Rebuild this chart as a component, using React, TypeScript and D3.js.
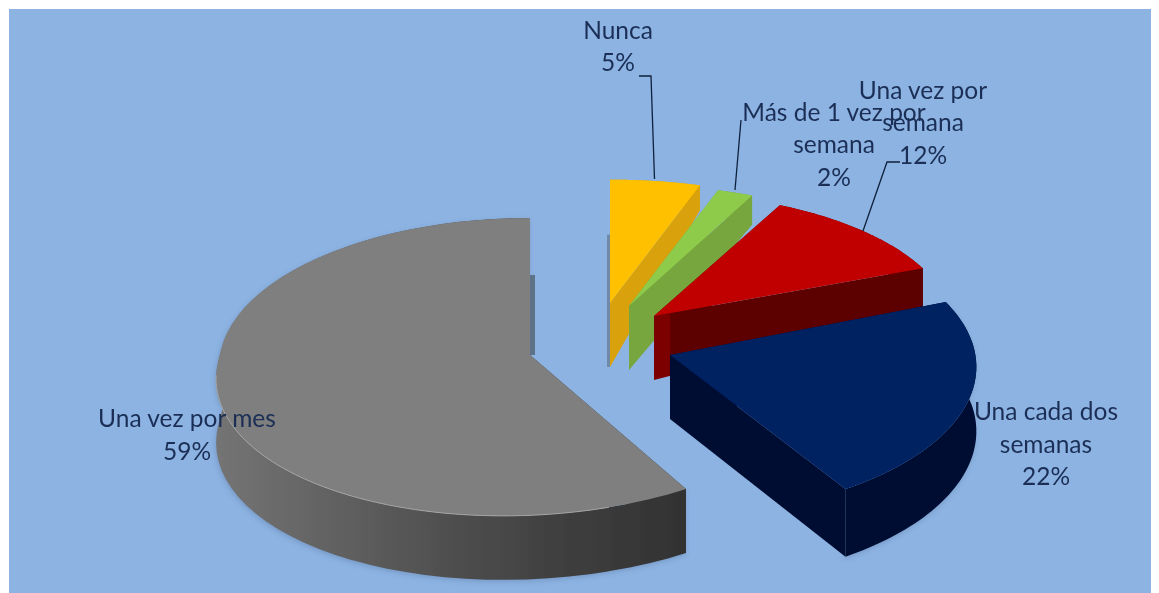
import React from "react";
import * as d3 from "d3";

const categories = ["Nunca", "Más de 1 vez por semana", "Una vez por semana", "Una cada dos semanas", "Una vez por mes"];
const values = [5, 2, 12, 22, 59];
const labelLines = [
  ["Nunca", "5%"],
  ["Más de 1 vez por", "semana", "2%"],
  ["Una vez por", "semana", "12%"],
  ["Una cada dos", "semanas", "22%"],
  ["Una vez por mes", "59%"],
];
const topColors = ["#ffc000", "#8fcb4c", "#c00000", "#002060", "#7f7f7f"];
const sideColors = ["#d9a208", "#76a63c", "#5c0000", "#000c30", "url(#graySide)"];
const faceColors = ["#d9a208", "#76a63c", "url(#redSide)", "#000c30", "#333333"];

const W = 1159, H = 593;
const RX = 310, RY = 148, K = 0.08, DEPTH = 64;

// explosion / perspective layout per slice
const layout = [
  { ax: 610, ay: 303, sx: 1.01, sy: 0.9, skew: 0, taper: 0.64, da0: 0, front: 0 },
  { ax: 629, ay: 306, sx: 1.0, sy: 0.885, skew: 0, taper: 0.6, da0: 0, front: 0 },
  { ax: 654, ay: 316, sx: 0.96, sy: 0.9, skew: 0, taper: 0.9, da0: 0.03, front: 0 },
  { ax: 670, ay: 355, sx: 0.985, sy: 1.0, skew: 0, taper: 0, da0: 0, front: 0.07 },
  { ax: 530, ay: 355, sx: 1.0, sy: 1.0, skew: -0.165, taper: 0, da0: 0, front: 0 },
];
const labelPos = [
  { x: 618, y: 38.5 }, { x: 834, y: 120.5 }, { x: 923, y: 98.5 }, { x: 1046, y: 420 }, { x: 187, y: 427 },
];
const LINE_H = 32.7;
const leaders: [number, number][][] = [
  [[639, 76], [651, 76], [654.5, 179]],
  [[741, 120], [735, 190]],
  [[900, 162], [887, 162], [863, 231]],
];

const pieGen = d3.pie<number>().sort(null).startAngle(0).endAngle(2 * Math.PI);
const arcs = pieGen(values);

type L = (typeof layout)[number];
const persp = (a: number) => 1 / (1 + K * Math.cos(a));
const project = (l: L, a: number, r = 1, drop = false): [number, number] => {
  const f = r === 0 ? 1 : persp(a);
  const dx = RX * l.sx * r * Math.sin(a) * f;
  const dy = -RY * l.sy * r * Math.cos(a) * f;
  const sk = dy > 0 ? l.skew * dy : 0;
  const c = Math.cos(a);
  const depth = drop ? DEPTH * (1 - l.taper * r * Math.max(c, 0) + l.front * r * Math.max(-c, 0)) : 0;
  return [l.ax + dx + sk, l.ay + dy + depth];
};
const line = d3.line<[number, number]>();
const samples = (a0: number, a1: number) => d3.range(0, 61).map((i) => a0 + ((a1 - a0) * i) / 60);

const topPath = (l: L, a0: number, a1: number) =>
  line([project(l, a0, 0), ...samples(a0, a1).map((a) => project(l, a)), project(l, a0, 0)])!;
const rimPath = (l: L, a0: number, a1: number) => line(samples(a0, a1).map((a) => project(l, a)))!;
const wallPath = (l: L, a0: number, a1: number) =>
  line([
    ...samples(a0, a1).map((a) => project(l, a)),
    ...samples(a0, a1).reverse().map((a) => project(l, a, 1, true)),
  ])! + "Z";
const facePath = (l: L, a: number) =>
  line([project(l, a, 0), project(l, a), project(l, a, 1, true), project(l, a, 0, true)])! + "Z";
// thin shaded sliver seen beside a vertical cut edge
const sliverPath = (l: L, side: number, fromTop: number, toApex: number) => {
  const t = project(l, 0);
  const b = project(l, 0, 0);
  return line([
    [b[0], t[1] + fromTop],
    [b[0] + side, t[1] + fromTop],
    [b[0] + side, b[1] + toApex],
    [b[0], b[1] + toApex],
  ])! + "Z";
};

export default function App() {
  const startOf = (i: number, a: number) => a + layout[i].da0;
  return (
    <svg
      width={W}
      height={H}
      viewBox={`0 0 ${W} ${H}`}
      style={{ position: "absolute", left: 0, top: 0, display: "block", background: "#fff" }}
    >
      <defs>
        <linearGradient id="graySide" x1="0" x2="1" y1="0" y2="0">
          <stop offset="0" stopColor="#747474" />
          <stop offset="0.15" stopColor="#696969" />
          <stop offset="0.45" stopColor="#525252" />
          <stop offset="0.75" stopColor="#3e3e3e" />
          <stop offset="1" stopColor="#323232" />
        </linearGradient>
        <linearGradient id="redSide" x1="0" x2="1" y1="0" y2="0">
          <stop offset="0" stopColor="#7d0000" />
          <stop offset="0.055" stopColor="#7d0000" />
          <stop offset="0.065" stopColor="#5c0000" />
          <stop offset="1" stopColor="#5c0000" />
        </linearGradient>
        <filter id="soft" x="-5%" y="-5%" width="110%" height="110%">
          <feGaussianBlur stdDeviation="0.6" />
        </filter>
        <filter id="shadow" x="-5%" y="-5%" width="110%" height="110%">
          <feGaussianBlur stdDeviation="2.5" />
        </filter>
      </defs>
      <rect x={9} y={9} width={1151 - 9} height={H - 9} fill="#8db3e2" />
      <g filter="url(#soft)">
        <path d={sliverPath(layout[0], -3, 55, 64)} fill="#6f89a8" />
        {arcs.map((d, i) => {
          const l = layout[i];
          const a0 = startOf(i, d.startAngle);
          const a1 = d.endAngle;
          return (
            <g key={categories[i]}>
              {i >= 3 && (
                <path d={wallPath(l, a0, a1)} fill="#5f7da6" opacity={0.45} filter="url(#shadow)" transform="translate(-1,2)" />
              )}
              <path d={facePath(l, a0)} fill={faceColors[i]} />
              <path d={facePath(l, a1)} fill={faceColors[i]} />
              <path d={wallPath(l, a0, a1)} fill={sideColors[i]} />
              <path d={topPath(l, a0, a1)} fill={topColors[i]} />
            </g>
          );
        })}
        <path d={rimPath(layout[4], arcs[4].startAngle + 0.25, arcs[4].startAngle + 2.0)} fill="none" stroke="#a3a3a3" strokeWidth={1} />
        <path d={sliverPath(layout[4], 5, 57, 0)} fill="#5f7388" />
        {leaders.map((pts, i) => (
          <path key={i} d={line(pts)!} fill="none" stroke="#10203c" strokeWidth={1.3} />
        ))}
        {labelLines.map((lines, i) => (
          <text
            key={categories[i]}
            x={labelPos[i].x}
            y={labelPos[i].y}
            textAnchor="middle"
            fontFamily="Lato, 'Open Sans', sans-serif"
            fontSize={24.5}
            fill="#1a2f55"
          >
            {lines.map((t, j) => (
              <tspan key={j} x={labelPos[i].x} y={labelPos[i].y + j * LINE_H}>
                {t}
              </tspan>
            ))}
          </text>
        ))}
      </g>
    </svg>
  );
}
